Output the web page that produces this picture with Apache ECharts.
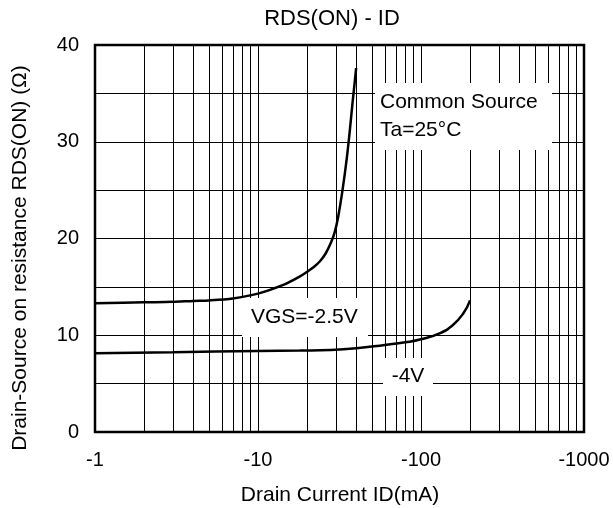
<!DOCTYPE html>
<html><head><meta charset="utf-8">
<script src="https://cdn.jsdelivr.net/npm/echarts@6/dist/echarts.min.js"></script>
<style>html,body{margin:0;padding:0;background:#fff}#c{width:613px;height:508px}</style>
</head><body><div id="c"></div>
<script>
// Data (|ID| in mA, RDS(ON) in ohms)
const idVgs25 = [1, 2, 3, 4, 5, 7, 10, 14.3, 18, 20, 22, 24, 26, 28, 29.5, 31, 33, 35, 36.5, 38, 39, 40];
const rdsVgs25 = [13.3, 13.4, 13.45, 13.55, 13.6, 13.8, 14.3, 15.2, 16.05, 16.55, 17.05, 17.65, 18.45, 19.55, 20.6, 22.2, 25, 28.2, 31, 34, 35.8, 37.6];
const idVgs4 = [1, 3, 10, 18, 28, 40, 60, 80, 100, 130, 157, 182, 200];
const rdsVgs4 = [8.15, 8.25, 8.37, 8.42, 8.48, 8.65, 9.0, 9.27, 9.58, 10.2, 11.06, 12.27, 13.6];
const minorX = [2,3,4,5,6,7,8,9,20,30,40,50,60,70,80,90,200,300,400,500,600,700,800,900];
const xTicks = [1, 10, 100, 1000];
const yTicks = [0, 10, 20, 30, 40];

const FONT = '"Liberation Sans", Arial, sans-serif';
const chart = echarts.init(document.getElementById('c'), null, {renderer: 'canvas'});
const pair = (xs, ys) => xs.map((x, i) => [x, ys[i]]);

chart.setOption({
  animation: false,
  backgroundColor: '#fff',
  grid: {left: 95, right: 29, top: 45, bottom: 76, show: true, borderColor: '#000', borderWidth: 2.5, backgroundColor: 'transparent', z: 5},
  xAxis: {
    type: 'log', logBase: 10, min: 1, max: 1000,
    axisLine: {show: false}, axisTick: {show: false},
    splitLine: {show: true, lineStyle: {color: '#000', width: 1}},
    axisLabel: {fontFamily: FONT, fontSize: 20, color: '#000', margin: 18,
      formatter: v => xTicks.includes(Math.round(v)) ? '-' + Math.round(v) : ''}
  },
  yAxis: {
    type: 'value', min: 0, max: 40, interval: 5,
    axisLine: {show: false}, axisTick: {show: false},
    splitLine: {show: true, lineStyle: {color: '#000', width: 1}},
    axisLabel: {fontFamily: FONT, fontSize: 20, color: '#000', margin: 16,
      formatter: v => yTicks.includes(v) ? String(v) : ''}
  },
  series: [
    {type: 'line', data: pair(idVgs25, rdsVgs25), smooth: 0.3, showSymbol: false,
     lineStyle: {color: '#000', width: 2.5}, z: 3,
     markLine: {silent: true, symbol: 'none', label: {show: false}, animation: false,
       lineStyle: {color: '#000', width: 1, type: 'solid'},
       data: minorX.map(v => ({xAxis: v}))}},
    {type: 'line', data: pair(idVgs4, rdsVgs4), smooth: 0.5, showSymbol: false,
     lineStyle: {color: '#000', width: 2.5}, z: 3}
  ],
  graphic: [
    {type: 'text', x: 332, y: 19, style: {text: 'RDS(ON) - ID', fontFamily: FONT, fontSize: 22, fill: '#000', align: 'center', verticalAlign: 'middle'}, z: 100},
    {type: 'text', x: 340, y: 495, style: {text: 'Drain Current ID(mA)', fontFamily: FONT, fontSize: 21, fill: '#000', align: 'center', verticalAlign: 'middle'}, z: 100},
    {type: 'text', x: 20, y: 258, rotation: Math.PI / 2, style: {text: 'Drain-Source on resistance RDS(ON) (Ω)', fontFamily: FONT, fontSize: 21, fill: '#000', align: 'center', verticalAlign: 'middle'}, z: 100},
    {type: 'rect', shape: {x: 375, y: 83, width: 177, height: 67}, style: {fill: '#fff'}, z: 99},
    {type: 'text', x: 380, y: 88, style: {text: 'Common Source\nTa=25°C', fontFamily: FONT, fontSize: 21, lineHeight: 28, fill: '#000'}, z: 100},
    {type: 'rect', shape: {x: 242, y: 298, width: 126, height: 39}, style: {fill: '#fff'}, z: 99},
    {type: 'text', x: 251, y: 317, style: {text: 'VGS=-2.5V', fontFamily: FONT, fontSize: 21, fill: '#000', verticalAlign: 'middle'}, z: 100},
    {type: 'rect', shape: {x: 383, y: 358, width: 50, height: 38}, style: {fill: '#fff'}, z: 99},
    {type: 'text', x: 408, y: 376, style: {text: '-4V', fontFamily: FONT, fontSize: 21, fill: '#000', align: 'center', verticalAlign: 'middle'}, z: 100}
  ]
});
</script></body></html>
